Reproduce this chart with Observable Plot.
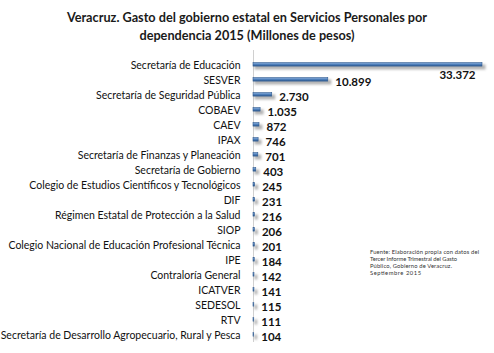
<!DOCTYPE html>
<html>
<head>
<meta charset="utf-8">
<script src="https://cdn.jsdelivr.net/npm/d3@7"></script>
<script src="https://cdn.jsdelivr.net/npm/@observablehq/plot@0.6"></script>
<style>
  html, body { margin: 0; padding: 0; background: #fff; }
  #wrap { position: relative; width: 494px; height: 353px; overflow: hidden; }
  #title { position: absolute; left: 0; top: 8px; width: 494px; text-align: center;
    font-family: Lato, sans-serif; font-weight: bold; font-size: 12.7px; line-height: 18px; color: #1a1a1a; }
  #chart { position: absolute; left: 0; top: 0; }
</style>
</head>
<body>
<div id="wrap">
  <div id="chart"></div>
  <div id="title">Veracruz. Gasto del gobierno estatal en Servicios Personales por<br>dependencia 2015 (Millones de pesos)</div>
</div>
<script>
const categories = [
  "Secretaría de Educación",
  "SESVER",
  "Secretaría de Seguridad Pública",
  "COBAEV",
  "CAEV",
  "IPAX",
  "Secretaría de Finanzas y Planeación",
  "Secretaría de Gobierno",
  "Colegio de Estudios Científicos y Tecnológicos",
  "DIF",
  "Régimen Estatal de Protección a la Salud",
  "SIOP",
  "Colegio Nacional de Educación Profesional Técnica",
  "IPE",
  "Contraloría General",
  "ICATVER",
  "SEDESOL",
  "RTV",
  "Secretaría de Desarrollo Agropecuario, Rural y Pesca"
];
const values = [33372, 10899, 2730, 1035, 872, 746, 701, 403, 245, 231, 216, 206, 201, 184, 142, 141, 115, 111, 104];
const captionLines = [
  "Fuente: Elaboración propia con datos del",
  "Tercer Informe Trimestral del Gasto",
  "Público, Gobierno de Veracruz.",
  "Septiembre 2015"
];
const captionWidths = [109, 87, 82, 51];

const data = categories.map((c, i) => ({category: c, value: values[i]}));
const fmt = d3.formatLocale({decimal: ",", thousands: ".", grouping: [3], currency: ["$", ""]}).format(",d");

const chart = Plot.plot({
  width: 494,
  height: 353,
  marginTop: 52,
  marginBottom: 6,
  marginLeft: 253,
  marginRight: 12,
  style: {fontFamily: "Lato, sans-serif", background: "transparent"},
  x: {domain: [0, 33372], axis: null},
  y: {domain: categories, axis: null, padding: 0},
  marks: [
    Plot.ruleX([0], {stroke: "#d0d0d0", strokeWidth: 1, insetTop: -2, insetBottom: 5}),
    Plot.barX(data, {y: "category", x: "value", fill: "#777", fillOpacity: 0.55, insetTop: 6, insetBottom: 4, insetRight: -2, dx: 1.5, dy: 1.5}),
    Plot.barX(data, {y: "category", x: "value", fill: "url(#bargrad)", stroke: "#2f5a8f", strokeWidth: 0.6, insetTop: 5.6, insetBottom: 5.9}),
    Plot.text(data, {y: "category", text: d => d.category, frameAnchor: "left", dx: -13, textAnchor: "end", fontSize: 10.5, fill: "#111", dy: 0.5}),
    Plot.text(data.slice(1), {y: "category", x: "value", text: d => fmt(d.value), textAnchor: "start", dx: 7, dy: 2.5, fontSize: 11.5, fontWeight: "bold", fill: "#111"}),
    Plot.text(data.slice(0, 1), {y: "category", x: "value", text: d => fmt(d.value), textAnchor: "end", dx: -7, dy: 10, fontSize: 11.5, fontWeight: "bold", fill: "#111"})
  ]
});

const svg = d3.select(chart);
const defs = svg.insert("defs", ":first-child");
const g = defs.append("linearGradient").attr("id", "bargrad").attr("x1", 0).attr("y1", 0).attr("x2", 0).attr("y2", 1);
g.append("stop").attr("offset", "0%").attr("stop-color", "#8fb0dc");
g.append("stop").attr("offset", "50%").attr("stop-color", "#4f81bd");
g.append("stop").attr("offset", "100%").attr("stop-color", "#2f5a8f");
const f = defs.append("filter").attr("id", "blur").attr("x", "-20%").attr("y", "-200%").attr("width", "140%").attr("height", "500%");
f.append("feGaussianBlur").attr("stdDeviation", 1.2);
const barGroups = chart.querySelectorAll('g[aria-label="bar"]');
if (barGroups.length) barGroups[0].setAttribute("filter", "url(#blur)");

// caption (source note)
const cap = svg.append("g").attr("font-family", "Lato, sans-serif").attr("font-size", 5.8)
  .attr("fill", "#333").attr("text-anchor", "start");
captionLines.forEach((t, i) => {
  cap.append("text")
    .attr("x", 370).attr("y", 254 + i * 6.9)
    .attr("text-anchor", "start")
    .attr("textLength", captionWidths[i]).attr("lengthAdjust", "spacing")
    .text(t);
});

document.getElementById("chart").appendChild(chart);
</script>
</body>
</html>
